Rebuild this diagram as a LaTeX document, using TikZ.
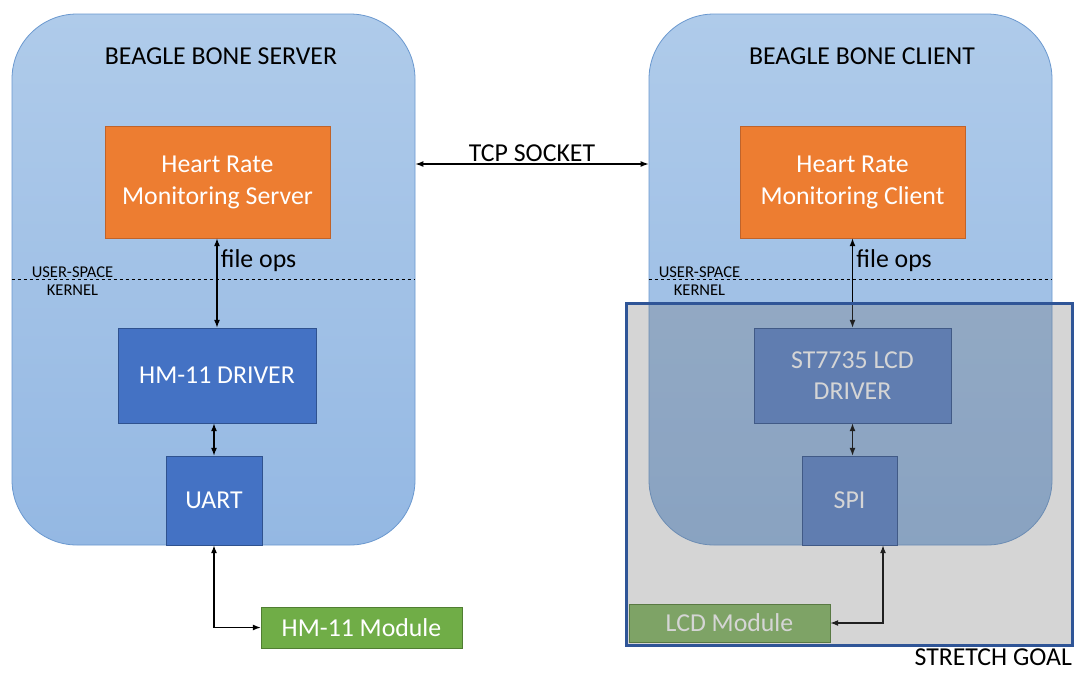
\documentclass[tikz,border=0pt]{standalone}
\usepackage{fontspec}
\setmainfont{Carlito}
\usetikzlibrary{arrows.meta,positioning}

\definecolor{boardtop}{HTML}{AFCBEA}
\definecolor{boardbot}{HTML}{94B8E3}
\definecolor{boardline}{HTML}{6A98CF}
\definecolor{appfill}{HTML}{ED7D31}
\definecolor{appline}{HTML}{C0632A}
\definecolor{drvfill}{HTML}{4472C4}
\definecolor{drvline}{HTML}{2F528F}
\definecolor{modfill}{HTML}{70AD47}
\definecolor{modline}{HTML}{507E32}
\definecolor{goalline}{HTML}{2F5597}
\definecolor{shadegray}{RGB}{112,112,112}

\tikzset{
  board/.style={draw=boardline, line width=0.8pt, rounded corners=65pt,
    top color=boardtop, bottom color=boardbot},
  appbox/.style={draw=appline, fill=appfill, text=white, align=center,
    minimum width=225pt, minimum height=112pt, font=\fontsize{25.8}{32}\selectfont},
  drvbox/.style={draw=drvline, fill=drvfill, text=white, align=center,
    font=\fontsize{25.8}{31}\selectfont},
  modbox/.style={draw=modline, fill=modfill, text=white,
    minimum width=201pt, font=\fontsize{25.8}{30}\selectfont},
  arr/.style={{Latex[length=8pt,width=6pt]}-{Latex[length=8pt,width=6pt]}, line width=1.2pt},
  big/.style={font=\fontsize{25.8}{30}\selectfont},
  small/.style={font=\fontsize{16.5}{20}\selectfont}
}

\begin{document}
\begin{tikzpicture}[x=1pt, y=-1pt]
    \useasboundingbox[fill=white] (0,0) rectangle (1092,686);

    % the two boards
    \node[board, minimum width=403pt, minimum height=531pt] (server) at (213.5,279.5) {};
    \node[board, minimum width=403pt, minimum height=531pt] (client) at (850.5,279.5) {};
    \node[big] (servertitle) at (221,56) {BEAGLE BONE SERVER};
    \node[big] (clienttitle) at (862,56) {BEAGLE BONE CLIENT};

    % applications
    \node[appbox] (hrs) at (217.5,182) {Heart Rate\\Monitoring Server};
    \node[appbox] (hrc) at (852.5,182) {Heart Rate\\Monitoring Client};

    \coordinate (tcp) at (0,164);
    \draw[arr] (server.east |- tcp) -- node[above, big, yshift=-2pt] {TCP SOCKET} (client.west |- tcp);

    % user-space / kernel boundary
    \coordinate (ukline) at (0,279);
    \draw[dashed, line width=0.8pt] (server.west |- ukline) -- (server.east |- ukline);
    \draw[dashed, line width=0.8pt] (client.west |- ukline) -- (client.east |- ukline);
    \node[small, above=0pt of {server.west |- ukline}, anchor=south west, xshift=19pt, inner sep=1pt] (us1) {USER-SPACE};
    \node[small, below=2pt of us1] (k1) {KERNEL};
    \node[small, above=0pt of {client.west |- ukline}, anchor=south west, xshift=9pt, inner sep=1pt] (us2) {USER-SPACE};
    \node[small, below=2pt of us2] (k2) {KERNEL};

    % drivers
    \node[drvbox, minimum width=198pt, minimum height=95pt] (hmdrv) at (217,375.5) {HM-11 DRIVER};
    \node[drvbox, minimum width=96pt, minimum height=89pt] (uart) at (214,500.5) {UART};
    \node[drvbox, fill=drvfill!88!white, minimum width=197pt, minimum height=95pt] (lcddrv) at (852.5,375.5) {ST7735 LCD\\DRIVER};
    \node[drvbox, fill=drvfill!88!white, minimum width=95pt, minimum height=89pt] (spi) at (849.5,500.5) {SPI};

    \draw[arr] (hrs.south -| hmdrv.north) -- node[pos=0.25, right, big] {file ops} (hmdrv.north);
    \draw[arr] (hrc.south) -- node[pos=0.25, right, big] {file ops} (lcddrv.north);
    \draw[arr] (hmdrv.south -| uart.north) -- (uart.north);
    \draw[arr] (lcddrv.south) -- (lcddrv.south |- spi.north);

    % modules
    \node[modbox, minimum height=41pt] (hmmod) at (361.5,627.5) {HM-11 Module};
    \node[modbox, fill=modfill!85!white, minimum height=38pt] (lcdmod) at (729.5,623) {LCD Module};
    \draw[arr] (uart.south) |- (hmmod.west);
    \draw[arr] ([xshift=33.5pt]spi.south) |- (lcdmod.east);

    % stretch goal overlay
    \node[fill=shadegray, fill opacity=0.29, minimum width=445pt, minimum height=341pt] (stretch) at (849.5,474.5) {};
    \draw[goalline, line width=3pt] (stretch.north west) rectangle (stretch.south east);
    \node[big, anchor=north east, inner xsep=0pt, inner ysep=3pt] (goal) at (stretch.south east) {STRETCH GOAL};
\end{tikzpicture}
\end{document}
